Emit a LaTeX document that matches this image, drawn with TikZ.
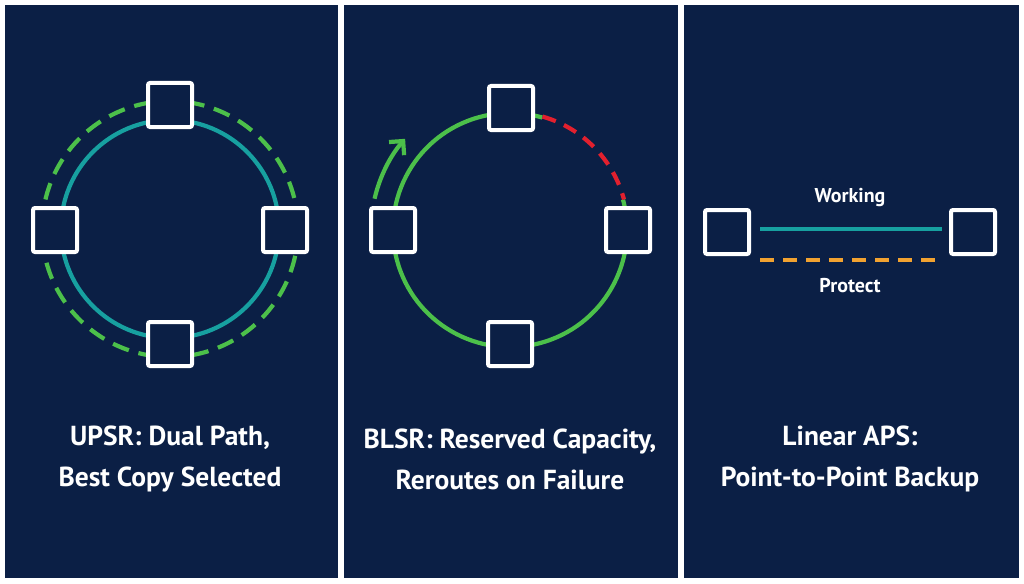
\documentclass[tikz,border=0pt]{standalone}
\usepackage{fontspec}
\setmainfont{PT Sans}
\usetikzlibrary{arrows.meta}
\begin{document}
\begin{tikzpicture}[x=1pt,y=-1pt,
  panel/.style={fill=navy,draw=none},
  sq/.style={draw=white,line width=4pt,fill=navy,minimum size=44pt,inner sep=0pt,rounded corners=2pt},
  ttl/.style={text=white,font=\bfseries\fontsize{27.5}{41}\selectfont,align=center},
  lbl/.style={text=white,font=\bfseries\fontsize{20}{22}\selectfont},
  ln/.style={line width=4.2pt}]
\definecolor{navy}{HTML}{0B1F45}
\definecolor{teal}{HTML}{17A0A0}
\definecolor{grn}{HTML}{4CC04A}
\definecolor{redd}{HTML}{E2202E}
\definecolor{orng}{HTML}{F2A230}
\fill[white] (0,0) rectangle (1024,583);
\useasboundingbox (0,0) rectangle (1024,583);
\fill[panel] (5,5) rectangle (338,578);
\fill[panel] (344,5) rectangle (678,578);
\fill[panel] (684,5) rectangle (1019,578);
% panel 1
\draw[teal,ln] (170,229) circle (109);
\draw[grn,ln,dash pattern=on 17pt off 10pt] (170,229) circle (128);
\node[sq] (a1) at (170,105) {};
\node[sq] (a2) at (55,230) {};
\node[sq] (a3) at (285,230) {};
\node[sq] (a4) at (170,344) {};
\node[ttl] (t1) at (170,459) {UPSR: Dual Path,\\Best Copy Selected};
% panel 2
\coordinate (c2) at (510,230);
\draw[grn,ln] ([shift={(-15:117)}]c2) arc[start angle=-15,end angle=286,radius=117];
\draw[redd,ln,dash pattern=on 14pt off 9pt] ([shift={(-74:118)}]c2) arc[start angle=-74,end angle=-15,radius=118];
\draw[grn,ln,-{Straight Barb[length=10pt,width=20pt]}] ([shift={(193:139)}]c2) arc[start angle=193,end angle=221,radius=139];
\node[sq] (b1) at (511,108) {};
\node[sq] (b2) at (393,230) {};
\node[sq] (b3) at (628,230) {};
\node[sq] (b4) at (510,344) {};
\node[ttl] (t2) at (510,459) {BLSR: Reserved Capacity,\\Reroutes on Failure};
% panel 3
\node[sq] (p1) at (727,232) {};
\node[sq] (p2) at (973,232) {};
\coordinate (w1) at (760,229); \coordinate (w2) at (942,229);
\coordinate (q1) at (760,260); \coordinate (q2) at (942,260);
\draw[teal,ln] (w1) -- (w2);
\draw[orng,ln,dash pattern=on 14pt off 9pt] (q1) -- (q2);
\node[lbl] (wl) at (850,198) {Working};
\node[lbl] (pl) at (850,286) {Protect};
\node[ttl] (t3) at (850,459) {Linear APS:\\Point-to-Point Backup};
\end{tikzpicture}
\end{document}
